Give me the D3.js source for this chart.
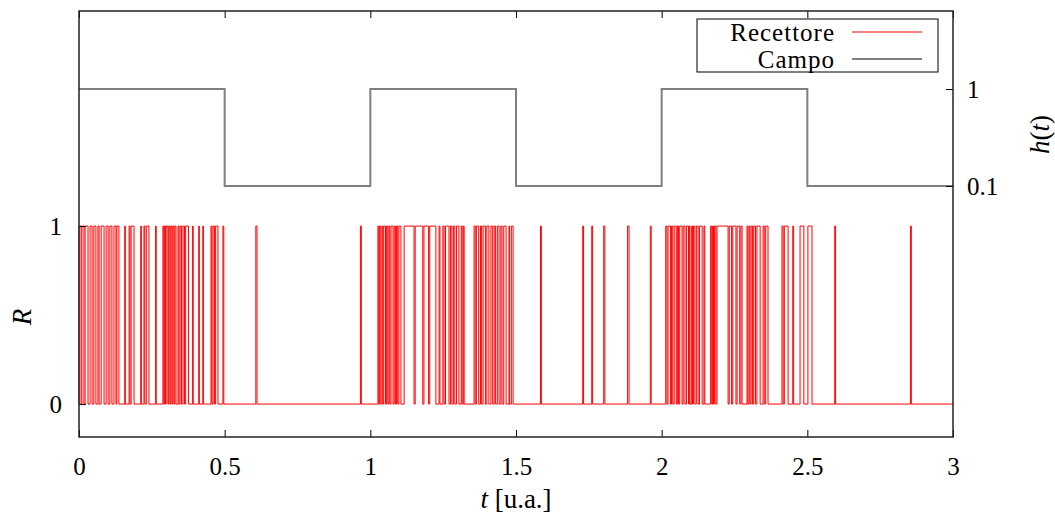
<!DOCTYPE html>
<html>
<head>
<meta charset="utf-8">
<script src="https://cdn.jsdelivr.net/npm/d3@7"></script>
<style>
  body { margin: 0; background: #fff; }
  svg { display: block; }
  text { font-family: "Liberation Serif", "DejaVu Serif", serif; fill: #000; }
</style>
</head>
<body>
<svg id="chart" width="1055" height="516"></svg>
<script>
// ---------- data ----------
const xTickValues = [0, 0.5, 1, 1.5, 2, 2.5, 3];
const xTickLabels = ["0", "0.5", "1", "1.5", "2", "2.5", "3"];
const leftTickValues = [0, 1];
const leftTickLabels = ["0", "1"];
const rightTickValues = [0.1, 1];
const rightTickLabels = ["0.1", "1"];

// Recettore: intervals [on, off] where R = 1
const recettoreOn = [
  0.000, 0.010, 0.021, 0.038, 0.051, 0.065, 0.076, 0.093, 0.106, 0.120, 0.130,
  0.157, 0.172, 0.179, 0.212, 0.223, 0.231, 0.263,
  0.288, 0.294, 0.299, 0.308, 0.315, 0.322, 0.329,
  0.340, 0.347, 0.357, 0.366, 0.390, 0.411, 0.425,
  0.453, 0.460, 0.469, 0.494, 0.607, 0.966,
  1.026, 1.032, 1.040, 1.046, 1.056, 1.064, 1.071, 1.082, 1.090, 1.098,
  1.116, 1.154, 1.184, 1.204, 1.236,
  1.249, 1.258, 1.275, 1.285, 1.296, 1.312, 1.319,
  1.356, 1.364, 1.378, 1.387, 1.400,
  1.414, 1.425, 1.436, 1.448, 1.458, 1.476, 1.484,
  1.584, 1.729, 1.760, 1.801, 1.883, 1.961,
  2.014, 2.022, 2.034, 2.043, 2.054, 2.062, 2.074, 2.085, 2.095,
  2.103, 2.109, 2.119, 2.130, 2.145,
  2.168, 2.175, 2.181, 2.190, 2.232, 2.244, 2.259, 2.272,
  2.293, 2.300, 2.307, 2.316, 2.327, 2.348, 2.357,
  2.413, 2.421, 2.450, 2.475, 2.502, 2.594, 2.854
];
const recettoreOff = [
  0.007, 0.017, 0.031, 0.045, 0.058, 0.069, 0.086, 0.100, 0.113, 0.127, 0.137,
  0.159, 0.175, 0.189, 0.214, 0.226, 0.240, 0.265,
  0.291, 0.297, 0.305, 0.312, 0.319, 0.326, 0.333,
  0.343, 0.352, 0.362, 0.376, 0.392, 0.413, 0.427,
  0.456, 0.465, 0.477, 0.497, 0.611, 0.969,
  1.029, 1.036, 1.043, 1.052, 1.060, 1.067, 1.078, 1.086, 1.094, 1.105,
  1.150, 1.180, 1.200, 1.225, 1.239,
  1.253, 1.270, 1.280, 1.290, 1.304, 1.315, 1.322,
  1.360, 1.372, 1.382, 1.395, 1.407,
  1.420, 1.430, 1.442, 1.452, 1.466, 1.478, 1.490,
  1.587, 1.732, 1.763, 1.805, 1.888, 1.964,
  2.018, 2.030, 2.038, 2.050, 2.058, 2.070, 2.080, 2.092, 2.097,
  2.106, 2.114, 2.125, 2.139, 2.148,
  2.172, 2.178, 2.186, 2.228, 2.240, 2.255, 2.268, 2.276,
  2.296, 2.303, 2.312, 2.322, 2.338, 2.352, 2.365,
  2.417, 2.434, 2.453, 2.488, 2.516, 2.597, 2.857
];

// Campo h(t): step function
const campoTimes  = [0, 0.5, 1, 1.5, 2, 2.5, 3];
const campoValues = [1, 0.1, 1, 0.1, 1, 0.1, 0.1];

// ---------- layout ----------
const W = 1055, H = 516;
const m = { left: 79, right: 102, top: 11, bottom: 79 };
const x0 = m.left, x1 = W - m.right, y0 = m.top, y1 = H - m.bottom;

const svg = d3.select("#chart");

const x = d3.scaleLinear().domain([0, 3]).range([x0, x1]);
const yL = d3.scaleLinear().domain([-0.185, 2.208]).range([y1, y0]);
const yR = d3.scaleLinear().domain([-2.229, 1.724]).range([y1, y0]);

// Recettore points
const rPts = [[0, 0]];
recettoreOn.forEach((on, i) => { rPts.push([on, 1]); rPts.push([recettoreOff[i], 0]); });
rPts.push([3, 0]);

const cPts = campoTimes.map((t, i) => [t, campoValues[i]]);

svg.append("path")
  .datum(rPts)
  .attr("fill", "none")
  .attr("stroke", "#ff0000")
  .attr("stroke-width", 1)
  .attr("d", d3.line().x(d => x(d[0])).y(d => yL(d[1])).curve(d3.curveStepAfter));

svg.append("path")
  .datum(cPts)
  .attr("fill", "none")
  .attr("stroke", "#808080")
  .attr("stroke-width", 2)
  .attr("d", d3.line().x(d => x(d[0])).y(d => yR(d[1])).curve(d3.curveStepAfter));

// ---------- axes ----------
const tickLen = 7;
const fs = 25;
const fsBig = 27;

const bottomAxis = d3.axisBottom(x).tickValues(xTickValues)
  .tickFormat((d, i) => xTickLabels[i]).tickSizeInner(-tickLen).tickSizeOuter(0).tickPadding(20);
const gB = svg.append("g").attr("transform", `translate(0,${y1})`).call(bottomAxis);

const topAxis = d3.axisTop(x).tickValues(xTickValues).tickFormat("").tickSizeInner(-tickLen).tickSizeOuter(0);
const gT = svg.append("g").attr("transform", `translate(0,${y0})`).call(topAxis);

const leftAxis = d3.axisLeft(yL).tickValues(leftTickValues)
  .tickFormat((d, i) => leftTickLabels[i]).tickSizeInner(-tickLen).tickSizeOuter(0).tickPadding(17);
const gL = svg.append("g").attr("transform", `translate(${x0},0)`).call(leftAxis);

const rightAxis = d3.axisRight(yR).tickValues(rightTickValues)
  .tickFormat((d, i) => rightTickLabels[i]).tickSizeInner(-tickLen).tickSizeOuter(0).tickPadding(14);
const gR = svg.append("g").attr("transform", `translate(${x1},0)`).call(rightAxis);

[gB, gT, gL, gR].forEach(g => {
  g.select(".domain").remove();
  g.selectAll(".tick line").attr("stroke", "#000").attr("stroke-width", 1);
  g.selectAll(".tick text")
    .style("font-family", '"Liberation Serif", serif')
    .style("font-size", fs + "px").attr("fill", "#000");
});

// frame
svg.append("rect")
  .attr("x", x0).attr("y", y0).attr("width", x1 - x0).attr("height", y1 - y0)
  .attr("fill", "none").attr("stroke", "#222").attr("stroke-width", 1.5);

// axis titles
const xt = svg.append("text").attr("x", (x0 + x1) / 2).attr("y", 508)
  .attr("text-anchor", "middle").style("font-size", fsBig + "px");
xt.append("tspan").style("font-style", "italic").text("t");
xt.append("tspan").text(" [u.a.]");

svg.append("text")
  .attr("transform", `translate(31,${(yL(0) + yL(1)) / 2 + 2}) rotate(-90)`)
  .attr("text-anchor", "middle").style("font-size", fsBig + "px").style("font-style", "italic")
  .text("R");

const ht = svg.append("text")
  .attr("transform", `translate(1049,${(yR(1) + yR(0.1)) / 2 - 3}) rotate(-90)`)
  .attr("text-anchor", "middle").style("font-size", fsBig + "px");
ht.append("tspan").style("font-style", "italic").text("h");
ht.append("tspan").text("(");
ht.append("tspan").style("font-style", "italic").text("t");
ht.append("tspan").text(")");

// legend
const lg = svg.append("g");
lg.append("rect").attr("x", 697).attr("y", 19).attr("width", 241).attr("height", 53)
  .attr("fill", "#fff").attr("stroke", "#000").attr("stroke-width", 1);
const legendItems = [
  { label: "Recettore", color: "#ff0000", width: 1, y: 32, base: 41 },
  { label: "Campo", color: "#808080", width: 2, y: 59, base: 68 }
];
legendItems.forEach(it => {
  lg.append("text").attr("x", 835).attr("y", it.base).attr("text-anchor", "end")
    .style("font-size", "25px").style("letter-spacing", "1px").text(it.label);
  lg.append("line").attr("x1", 852).attr("x2", 922).attr("y1", it.y).attr("y2", it.y)
    .attr("stroke", it.color).attr("stroke-width", it.width);
});
</script>
</body>
</html>
